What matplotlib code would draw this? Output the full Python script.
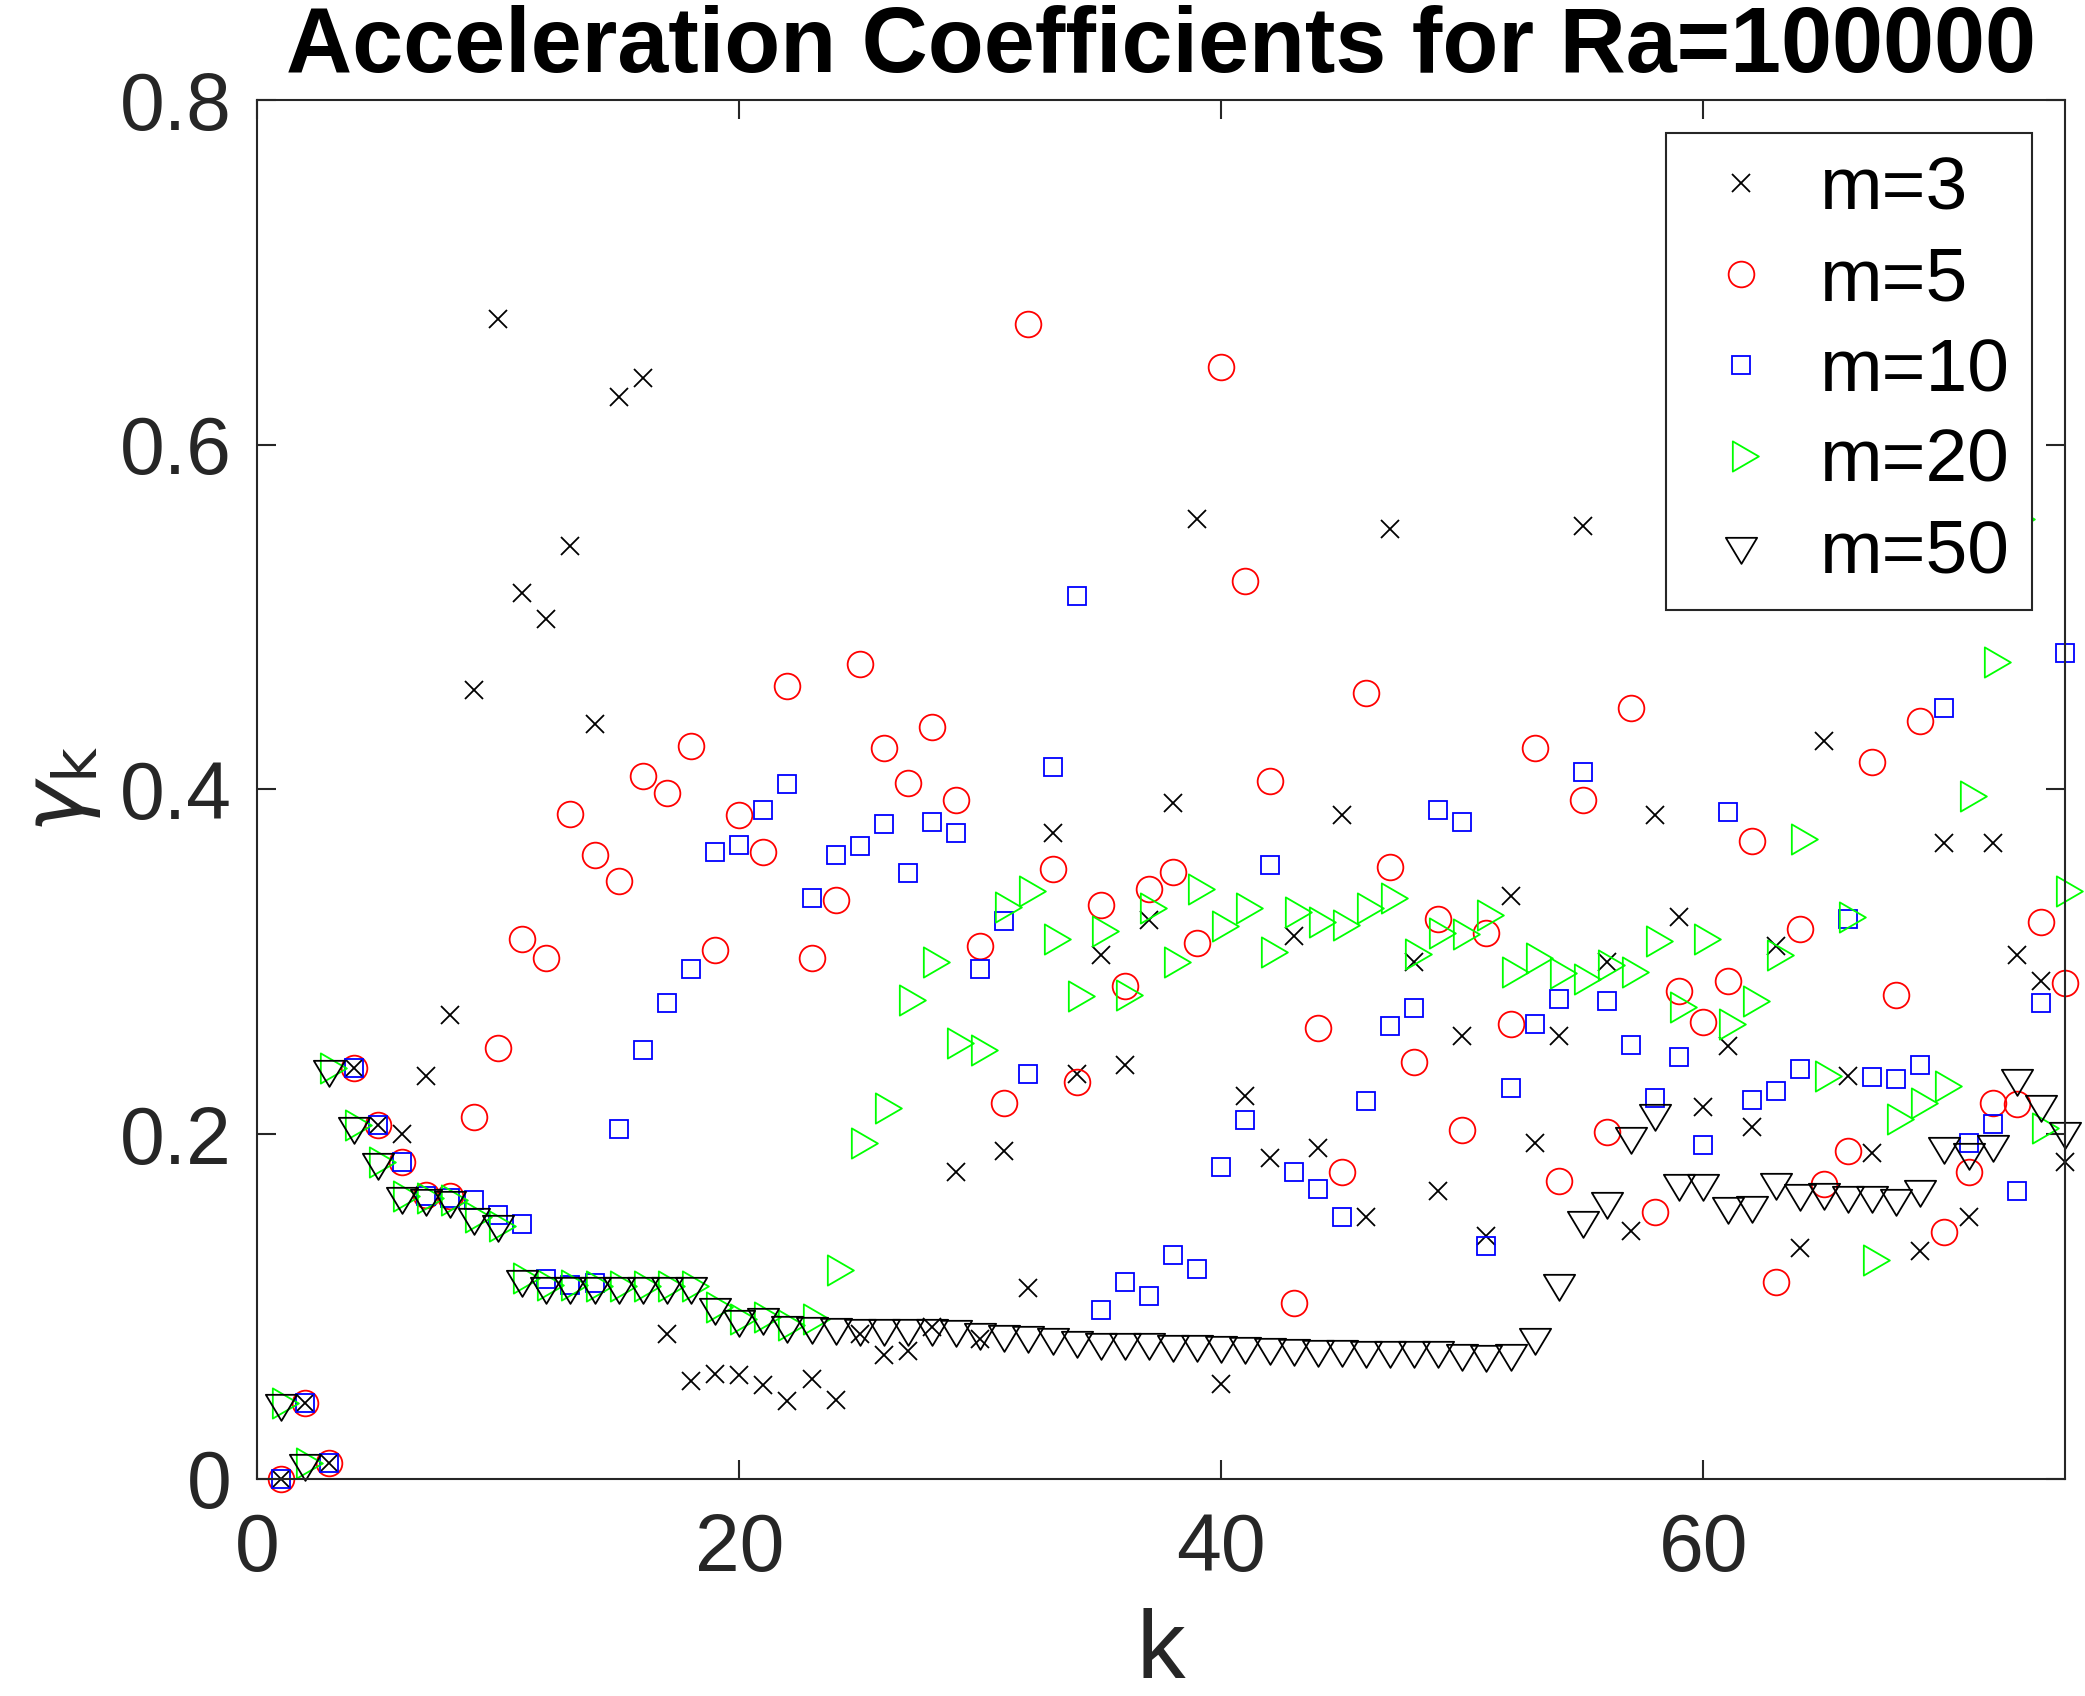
import numpy as np
import matplotlib
matplotlib.use("Agg")
import matplotlib.pyplot as plt
from matplotlib.path import Path

plt.rcParams['font.family'] = ['Liberation Sans', 'DejaVu Sans']
plt.rcParams['mathtext.fontset'] = 'dejavusans'

title = "Acceleration Coefficients for Ra=100000"
xlabel = "k"
ylabel = r"$\gamma_{\mathsf{k}}$"
labels = ["m=3", "m=5", "m=10", "m=20", "m=50"]
xticks = [0, 20, 40, 60]
yticks = [0, 0.2, 0.4, 0.6, 0.8]
yticklabels = ["0", "0.2", "0.4", "0.6", "0.8"]

k = np.arange(1, 76)

m3 = [0.0, 0.044, 0.009, 0.2385, 0.2055, 0.200, 0.234, 0.269, 0.458, 0.673,
      0.514, 0.499, 0.541, 0.438, 0.628, 0.639, 0.084, 0.057, 0.061, 0.060,
      0.0546, 0.045, 0.058, 0.0455, 0.084, 0.072, 0.0745, 0.088, 0.178, 0.081,
      0.190, 0.111, 0.375, 0.235, 0.304, 0.240, 0.324, 0.392, 0.557, 0.055,
      0.222, 0.186, 0.315, 0.192, 0.385, 0.152, 0.551, 0.300, 0.167, 0.257,
      0.141, 0.338, 0.195, 0.257, 0.553, 0.300, 0.144, 0.385, 0.326, 0.216,
      0.251, 0.204, 0.309, 0.134, 0.428, 0.2335, 0.189, 0.600, 0.132, 0.369,
      0.152, 0.369, 0.304, 0.289, 0.184]

m5 = [0.0, 0.044, 0.009, 0.2385, 0.2055, 0.184, 0.165, 0.164, 0.210, 0.250,
      0.313, 0.302, 0.386, 0.362, 0.347, 0.408, 0.398, 0.425, 0.307, 0.385,
      0.364, 0.460, 0.302, 0.336, 0.473, 0.424, 0.404, 0.436, 0.394, 0.309,
      0.218, 0.670, 0.354, 0.230, 0.333, 0.286, 0.342, 0.352, 0.311, 0.645,
      0.521, 0.405, 0.102, 0.2615, 0.178, 0.456, 0.355, 0.242, 0.325, 0.2025,
      0.317, 0.264, 0.424, 0.173, 0.394, 0.201, 0.447, 0.155, 0.283, 0.265,
      0.289, 0.370, 0.114, 0.319, 0.171, 0.190, 0.416, 0.281, 0.440, 0.1435,
      0.178, 0.218, 0.2175, 0.323, 0.288]

m10 = [0.0, 0.044, 0.009, 0.2385, 0.2055, 0.184, 0.164, 0.163, 0.162, 0.153,
       0.148, 0.116, 0.1126, 0.1136, 0.203, 0.249, 0.276, 0.296, 0.364, 0.368,
       0.388, 0.403, 0.337, 0.362, 0.367, 0.380, 0.3515, 0.381, 0.375, 0.296,
       0.3235, 0.235, 0.413, 0.512, 0.098, 0.114, 0.106, 0.130, 0.122, 0.181,
       0.208, 0.356, 0.178, 0.168, 0.152, 0.2195, 0.263, 0.273, 0.388, 0.381,
       0.135, 0.227, 0.264, 0.2785, 0.410, 0.277, 0.252, 0.221, 0.245, 0.194,
       0.387, 0.220, 0.225, 0.238, 0.600, 0.325, 0.233, 0.232, 0.240, 0.447,
       0.195, 0.206, 0.167, 0.276, 0.479]

m20 = [0.044, 0.009, 0.2385, 0.2055, 0.184, 0.164, 0.163, 0.162, 0.152, 0.147,
       0.1165, 0.1126, 0.1126, 0.112, 0.112, 0.112, 0.112, 0.112, 0.100, 0.093,
       0.094, 0.0893, 0.093, 0.121, 0.195, 0.215, 0.278, 0.300, 0.253, 0.249,
       0.332, 0.341, 0.313, 0.280, 0.318, 0.281, 0.331, 0.300, 0.342, 0.321,
       0.331, 0.306, 0.329, 0.323, 0.3215, 0.331, 0.337, 0.3045, 0.317, 0.316,
       0.327, 0.294, 0.302, 0.2935, 0.290, 0.298, 0.294, 0.312, 0.274, 0.313,
       0.264, 0.277, 0.304, 0.371, 0.2335, 0.326, 0.127, 0.209, 0.218, 0.228,
       0.396, 0.474, 0.557, 0.2035, 0.341]

m50 = [0.044, 0.0095, 0.238, 0.205, 0.184, 0.164, 0.163, 0.162, 0.152, 0.148,
       0.1157, 0.1118, 0.1118, 0.1118, 0.1118, 0.1118, 0.1118, 0.1118, 0.0998, 0.0925,
       0.094, 0.0893, 0.0889, 0.0882, 0.0878, 0.0878, 0.0878, 0.0878, 0.0872, 0.0853,
       0.084, 0.0834, 0.0824, 0.0805, 0.0795, 0.0792, 0.0792, 0.0785, 0.078, 0.0776,
       0.0772, 0.0764, 0.0757, 0.0753, 0.0753, 0.075, 0.075, 0.075, 0.075, 0.0733,
       0.0724, 0.073, 0.0824, 0.1138, 0.1505, 0.1613, 0.1989, 0.2124, 0.1718, 0.1714,
       0.1584, 0.1588, 0.1724, 0.166, 0.1667, 0.165, 0.1647, 0.163, 0.168, 0.193,
       0.1898, 0.1946, 0.2327, 0.2173, 0.2018]

# MATLAB-like triangle markers centred on their centroid
tri_down = Path([(-0.9, 0.5), (0.9, 0.5), (0.0, -1.0), (-0.9, 0.5)],
                [Path.MOVETO, Path.LINETO, Path.LINETO, Path.CLOSEPOLY])
tri_right = Path([(-0.5, 0.87), (1.0, 0.0), (-0.5, -0.87), (-0.5, 0.87)],
                 [Path.MOVETO, Path.LINETO, Path.LINETO, Path.CLOSEPOLY])

fig = plt.figure(figsize=(20.85, 16.96), dpi=100)
ax = fig.add_axes([0.1233, 0.128, 0.8671, 0.813])

mew = 1.3
ax.plot(k, m3, linestyle='none', marker='x', ms=13, mec='black', mew=mew,
        label=labels[0], clip_on=False)
ax.plot(k, m5, linestyle='none', marker='o', ms=18.5, mec='#ff0000', mfc='none',
        mew=mew, label=labels[1], clip_on=False)
ax.plot(k, m10, linestyle='none', marker='s', ms=12.5, mec='#0000ff', mfc='none',
        mew=mew, label=labels[2], clip_on=False)
ax.plot(k, m20, linestyle='none', marker=tri_right, ms=25, mec='#00ff00', mfc='none',
        mew=mew, label=labels[3], clip_on=False)
ax.plot(k, m50, linestyle='none', marker=tri_down, ms=25, mec='black', mfc='none',
        mew=mew, label=labels[4], clip_on=False)

ax.set_xlim(0, 75)
ax.set_ylim(0, 0.8)
ax.set_xticks(xticks)
ax.set_yticks(yticks)
ax.set_yticklabels(yticklabels)

axcol = '#262626'
for s in ax.spines.values():
    s.set_color(axcol)
    s.set_linewidth(1.5)
ax.tick_params(direction='in', length=14, width=1.5, colors=axcol,
               labelsize=58, top=True, right=True, pad=18)
ax.tick_params(axis='x', pad=24)

ax.set_title(title, fontsize=66, fontweight='bold', pad=20, color='black')
ax.set_xlabel(xlabel, fontsize=70, color=axcol, labelpad=14)
ax.set_ylabel(ylabel, fontsize=62, color=axcol, labelpad=12)

leg = ax.legend(loc='upper right', bbox_to_anchor=(0.982, 0.976),
                borderaxespad=0, fontsize=54, handlelength=1.41,
                handletextpad=0.35, borderpad=0.3, labelspacing=0.29,
                frameon=True, fancybox=False, framealpha=1, edgecolor=axcol)
leg.get_frame().set_linewidth(1.5)
leg.set_zorder(10)

fig.savefig("out.png", dpi=100)
